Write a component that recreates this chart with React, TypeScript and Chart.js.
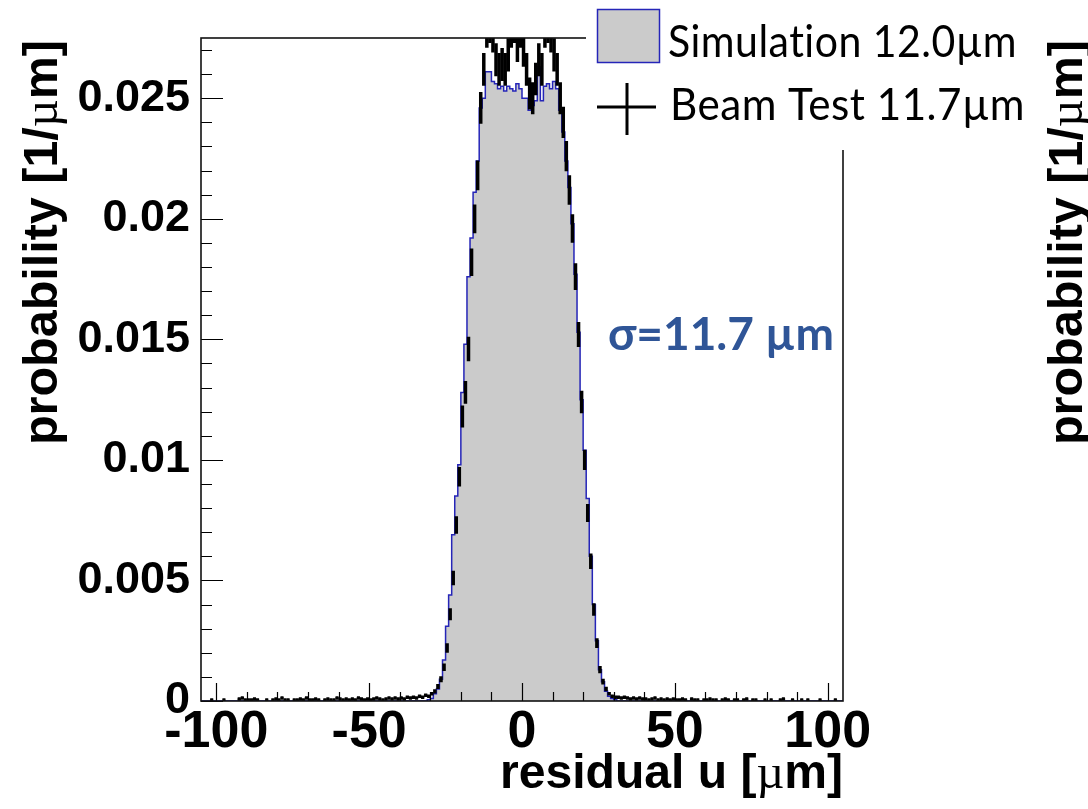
import React, { useEffect, useRef } from "react";
import { Chart, registerables } from "chart.js";

Chart.register(...registerables);

// ---- axis ranges and tick labels ----
const X_MIN = -105;
const X_MAX = 105;
const Y_MIN = 0;
const Y_MAX = 0.0275;
const BIN_WIDTH = 1;
const X_TICK_VALUES = [-100, -50, 0, 50, 100];
const X_TICK_LABELS = ["-100", "-50", "0", "50", "100"];
const Y_TICK_VALUES = [0, 0.005, 0.01, 0.015, 0.02, 0.025];
const Y_TICK_LABELS = ["0", "0.005", "0.01", "0.015", "0.02", "0.025"];

// ---- Simulation histogram (1 µm bins, first bin left edge = -31) ----
const SIM_FIRST_EDGE = -31;
const simValues = [
  0.00005, 0.0001, 0.0003, 0.0005, 0.0009, 0.0017, 0.0031, 0.0044, 0.0069, 0.0085,
  0.0098, 0.0128, 0.0148, 0.0176, 0.0192, 0.0211, 0.0224, 0.0246, 0.0250, 0.0261,
  0.0261, 0.0257, 0.0256, 0.0254, 0.0255, 0.0253, 0.0255, 0.0254, 0.0253, 0.0256,
  0.0254, 0.0250, 0.0250, 0.0245, 0.0247, 0.0249, 0.0263, 0.0249, 0.0255, 0.0256,
  0.0254, 0.0257, 0.0254, 0.0245, 0.0236, 0.0224, 0.0213, 0.0198, 0.0177, 0.0153,
  0.0125, 0.0104, 0.0084, 0.0060, 0.0040, 0.0025, 0.0013, 0.0008, 0.0004, 0.0002,
  0.0001, 0.00005,
];

// ---- Beam test histogram (1 µm bins, first bin left edge = -105) ----
const BEAM_FIRST_EDGE = -105;
const beamLeftTail = [
  0, 0, 0, 0.00004, 0, 0, 0, 0.00004, 0, 0,
  0, 0, 0.00008, 0.00012, 0.00004, 0.00004, 0.00004, 0.00008, 0.00004, 0,
  0, 0.00004, 0, 0.00004, 0.00008, 0.00004, 0.00012, 0.00004, 0.00004, 0,
  0.00004, 0.00004, 0.00008, 0.00004, 0.00012, 0.00004, 0.00004, 0.00008, 0.00004, 0,
  0.00004, 0.00008, 0.00004, 0.00004, 0.00012, 0.00008, 0.00004, 0.00008, 0.00004, 0.00008,
  0.00004, 0.00012, 0.00008, 0.00004, 0.00008, 0.00004, 0.00008, 0.00012, 0.00008, 0.00004,
  0.00008, 0.00012, 0.00008, 0.00012, 0.00008, 0.00012, 0.00008, 0.00016, 0.00012, 0.00016,
  0.00012, 0.0002, 0.00016, 0.00024, 0.0002,
];
const beamCore = [
  0.0003, 0.0004, 0.0006, 0.0009, 0.0014, 0.0022, 0.0036, 0.0051, 0.0073, 0.0093,
  0.0118, 0.0128, 0.0146, 0.0182, 0.0200, 0.0218, 0.0246, 0.0262, 0.0278, 0.0280,
  0.0276, 0.0266, 0.0262, 0.0264, 0.0262, 0.0268, 0.0278, 0.0280, 0.0272, 0.0278,
  0.0270, 0.0262, 0.0252, 0.0250, 0.0258, 0.0266, 0.0262, 0.0278, 0.0280, 0.0276,
  0.0268, 0.0262, 0.0250, 0.0240, 0.0226, 0.0212, 0.0196, 0.0176, 0.0152, 0.0124,
  0.0100, 0.0078, 0.0058, 0.0038, 0.0024, 0.0013, 0.0008, 0.0005, 0.0003, 0.0002,
];
const beamRightTail = [
  0.00016, 0.00016, 0.00012, 0.00016, 0.00012, 0.00008, 0.00012, 0.00008, 0.00012, 0.00008,
  0.00008, 0.00004, 0.00008, 0.00012, 0.00004, 0.00008, 0.00004, 0.00008, 0.00004, 0.00008,
  0.00004, 0.00004, 0.00008, 0.00004, 0, 0.00008, 0.00004, 0.00004, 0, 0.00004,
  0.00004, 0.00008, 0.00004, 0.00004, 0, 0.00004, 0.00008, 0.00004, 0, 0.00004,
  0.00004, 0, 0.00004, 0.00008, 0, 0.00004, 0.00004, 0, 0, 0.00004,
  0, 0.00004, 0, 0, 0.00004, 0.00008, 0, 0, 0.00004, 0,
  0, 0.00004, 0, 0.00004, 0, 0, 0, 0.00004, 0, 0,
  0, 0, 0.00004, 0, 0,
];
// Poisson-like error bar scale for the beam-test points
const BEAM_ERR_SCALE = 0.0042;

const SERIES_LABELS = ["Simulation 12.0µm", "Beam Test 11.7µm"];
const SIGMA_LABEL = "σ=11.7 µm";
const X_TITLE = ["residual u [", "µ", "m]"];
const Y_TITLE = ["probability [1/", "µ", "m]"];

// ---- styles ----
const SIM_FILL = "#cbcbcb";
const SIM_LINE = "#2525b8";
const SIGMA_COLOR = "#2f5597";
const LABEL_FAMILY = "'Liberation Sans', Arial, Helvetica, sans-serif";
const LEGEND_FAMILY = "Lato, 'Open Sans', sans-serif";

// ---- build datasets from arrays ----
const simPoints: { x: number; y: number }[] = [];
simPoints.push({ x: X_MIN, y: 0 });
simPoints.push({ x: SIM_FIRST_EDGE, y: 0 });
simValues.forEach((v, i) => simPoints.push({ x: SIM_FIRST_EDGE + i * BIN_WIDTH, y: v }));
simPoints.push({ x: SIM_FIRST_EDGE + simValues.length * BIN_WIDTH, y: 0 });
simPoints.push({ x: X_MAX, y: 0 });

const beamValues = [...beamLeftTail, ...beamCore, ...beamRightTail];
const beamPoints = beamValues.map((v, i) => ({
  x: BEAM_FIRST_EDGE + (i + 0.5) * BIN_WIDTH,
  y: v,
}));

type Seg = { text: string; font: string };
function drawSegs(
  ctx: CanvasRenderingContext2D,
  segs: Seg[],
  x: number,
  y: number,
  align: "left" | "right",
  targetWidth: number
) {
  let total = 0;
  const widths = segs.map((s) => {
    ctx.font = s.font;
    const w = ctx.measureText(s.text).width;
    total += w;
    return w;
  });
  const sx = targetWidth / total;
  ctx.save();
  ctx.translate(x, y);
  ctx.scale(sx, 1);
  let cx = align === "right" ? -total : 0;
  ctx.textAlign = "left";
  ctx.textBaseline = "alphabetic";
  segs.forEach((s, i) => {
    ctx.font = s.font;
    ctx.fillText(s.text, cx, 0);
    cx += widths[i];
  });
  ctx.restore();
}

function titleSegs(parts: string[]): Seg[] {
  return [
    { text: parts[0], font: `bold 48px ${LABEL_FAMILY}` },
    { text: parts[1], font: `48px 'Liberation Serif', serif` },
    { text: parts[2], font: `bold 48px ${LABEL_FAMILY}` },
  ];
}

const rootPlugin = {
  id: "rootStyle",
  afterDatasetsDraw(chart: any) {
    const { ctx, chartArea: a } = chart;
    const xs = chart.scales.x;
    const ys = chart.scales.y;
    ctx.save();
    ctx.beginPath();
    ctx.rect(a.left, a.top, a.right - a.left, a.bottom - a.top);
    ctx.clip();
    ctx.strokeStyle = "#000";
    ctx.lineWidth = 3.5;
    ctx.lineCap = "butt";
    beamPoints.forEach((p) => {
      if (p.y <= 0) return;
      const px = xs.getPixelForValue(p.x);
      const x0 = xs.getPixelForValue(p.x - BIN_WIDTH / 2);
      const x1 = xs.getPixelForValue(p.x + BIN_WIDTH / 2);
      const py = ys.getPixelForValue(p.y);
      const e = BEAM_ERR_SCALE * Math.sqrt(p.y);
      const yTop = ys.getPixelForValue(p.y + e);
      const yBot = ys.getPixelForValue(p.y - e);
      ctx.beginPath();
      ctx.moveTo(x0, py);
      ctx.lineTo(x1, py);
      ctx.moveTo(px, yTop);
      ctx.lineTo(px, yBot);
      ctx.stroke();
    });
    ctx.restore();
  },
  afterDraw(chart: any) {
    const { ctx, chartArea: a } = chart;
    const xs = chart.scales.x;
    const ys = chart.scales.y;
    ctx.save();
    // inward ticks
    ctx.strokeStyle = "#000";
    ctx.lineWidth = 1.2;
    ctx.beginPath();
    for (let k = -10; k <= 10; k++) {
      const v = k * 10;
      const px = Math.round(xs.getPixelForValue(v)) + 0.5;
      const len = k % 5 === 0 ? 18 : 9;
      ctx.moveTo(px, a.bottom);
      ctx.lineTo(px, a.bottom - len);
    }
    for (let k = 0; k <= 27; k++) {
      const v = k * 0.001;
      const py = Math.round(ys.getPixelForValue(v)) + 0.5;
      const len = k % 5 === 0 ? 22 : 11;
      ctx.moveTo(a.left, py);
      ctx.lineTo(a.left + len, py);
    }
    ctx.stroke();

    // frame
    ctx.lineWidth = 1.6;
    ctx.strokeStyle = "#111";
    ctx.strokeRect(a.left, a.top, a.right - a.left, a.bottom - a.top);

    // legend panel (white, covers frame corner)
    ctx.fillStyle = "#fff";
    ctx.fillRect(586, 0, 460, 150);
    ctx.fillStyle = SIM_FILL;
    ctx.fillRect(597, 9, 62, 53);
    ctx.strokeStyle = SIM_LINE;
    ctx.lineWidth = 1.5;
    ctx.strokeRect(597.5, 9.5, 62, 53);
    ctx.strokeStyle = "#000";
    ctx.lineWidth = 3;
    ctx.beginPath();
    ctx.moveTo(597, 107);
    ctx.lineTo(656, 107);
    ctx.moveTo(627, 83);
    ctx.lineTo(627, 135);
    ctx.stroke();
    ctx.fillStyle = "#000";
    ctx.textBaseline = "alphabetic";
    ctx.textAlign = "left";
    ctx.font = `44px ${LEGEND_FAMILY}`;
    (ctx as any).letterSpacing = "0.5px";
    ctx.fillText(SERIES_LABELS[0], 668, 57, 349);
    ctx.fillText(SERIES_LABELS[1], 670, 120, 355);
    (ctx as any).letterSpacing = "0px";

    // sigma annotation
    ctx.fillStyle = SIGMA_COLOR;
    ctx.font = `bold 46px ${LEGEND_FAMILY}`;
    ctx.fillText(SIGMA_LABEL, 608, 350, 228);

    // axis titles
    ctx.fillStyle = "#000";
    drawSegs(ctx, titleSegs(X_TITLE), 843, 788, "right", 343);
    ctx.save();
    ctx.translate(57, 445);
    ctx.rotate(-Math.PI / 2);
    drawSegs(ctx, titleSegs(Y_TITLE), 0, 0, "left", 405);
    ctx.restore();
    ctx.save();
    ctx.translate(1082, 445);
    ctx.rotate(-Math.PI / 2);
    drawSegs(ctx, titleSegs(Y_TITLE), 0, 0, "left", 405);
    ctx.restore();
    ctx.restore();
  },
};

export default function App() {
  const ref = useRef<HTMLCanvasElement>(null);
  useEffect(() => {
    document.body.style.margin = "0";
    const canvas = ref.current;
    if (!canvas) return;
    const chart = new Chart(canvas, {
      type: "line",
      data: {
        datasets: [
          {
            type: "line",
            label: SERIES_LABELS[0],
            data: simPoints,
            stepped: true,
            fill: "origin",
            backgroundColor: SIM_FILL,
            borderColor: SIM_LINE,
            borderWidth: 1.5,
            pointRadius: 0,
            tension: 0,
            order: 2,
          } as any,
          {
            type: "scatter",
            label: SERIES_LABELS[1],
            data: beamPoints,
            pointRadius: 0,
            showLine: false,
            order: 1,
          } as any,
        ],
      },
      options: {
        responsive: false,
        animation: false,
        events: [],
        layout: { padding: { left: 0, top: 37, right: 245, bottom: 0 } },
        plugins: { legend: { display: false }, tooltip: { enabled: false } },
        scales: {
          x: {
            type: "linear",
            min: X_MIN,
            max: X_MAX,
            afterFit: (s: any) => {
              s.height = 108;
            },
            grid: { display: false, drawTicks: false },
            border: { display: false },
            ticks: {
              includeBounds: false,
              stepSize: 50,
              autoSkip: false,
              maxRotation: 0,
              minRotation: 0,
              padding: 0,
              color: "#000",
              font: { family: LABEL_FAMILY, size: 52, weight: "bold" },
              callback: (v: any) => {
                const i = X_TICK_VALUES.findIndex((t) => Math.abs(t - Number(v)) < 1e-6);
                return i >= 0 ? X_TICK_LABELS[i] : "";
              },
            },
          } as any,
          y: {
            type: "linear",
            min: Y_MIN,
            max: Y_MAX,
            afterFit: (s: any) => {
              s.width = 201;
            },
            grid: { display: false, drawTicks: false },
            border: { display: false },
            ticks: {
              includeBounds: false,
              stepSize: 0.005,
              autoSkip: false,
              padding: 11,
              color: "#000",
              font: { family: LABEL_FAMILY, size: 45, weight: "bold" },
              callback: (v: any) => {
                const i = Y_TICK_VALUES.findIndex((t) => Math.abs(t - Number(v)) < 1e-9);
                return i >= 0 ? Y_TICK_LABELS[i] : "";
              },
            },
          } as any,
        },
      },
      plugins: [rootPlugin],
    });
    return () => chart.destroy();
  }, []);
  return (
    <div style={{ width: 1088, height: 809, position: "relative", background: "#fff" }}>
      <canvas ref={ref} width={1088} height={809} style={{ display: "block" }} />
    </div>
  );
}
